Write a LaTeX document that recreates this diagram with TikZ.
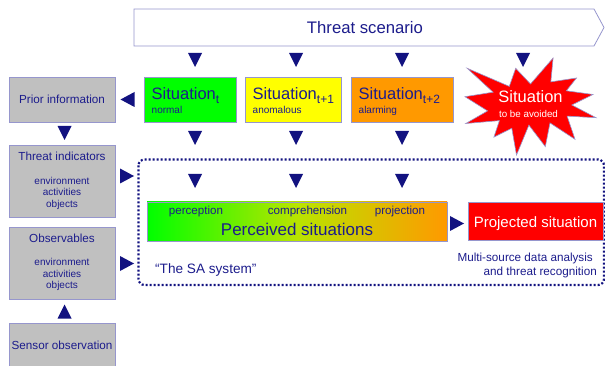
\documentclass[tikz,border=0pt]{standalone}
\usepackage{fontspec}
\setmainfont{Liberation Sans}

\definecolor{ink}{RGB}{28,28,140}
\definecolor{marker}{RGB}{18,18,128}
\definecolor{edge}{RGB}{150,150,205}
\definecolor{boxgray}{RGB}{192,192,192}
\definecolor{sitgreen}{RGB}{0,255,0}
\definecolor{sityellow}{RGB}{255,255,0}
\definecolor{sitorange}{RGB}{255,153,0}
\definecolor{midgreen}{RGB}{185,228,0}
\definecolor{alarmred}{RGB}{255,0,0}

% green -> yellow-green -> orange, left to right (the path spans 25bp..75bp)
\pgfdeclarehorizontalshading{percshade}{100bp}{%
  color(0bp)=(sitgreen); color(25bp)=(sitgreen); color(50bp)=(midgreen);
  color(75bp)=(sitorange); color(100bp)=(sitorange)}

\newcommand\fsz[1]{\fontsize{#1}{#1}\selectfont}
\newcommand\subidx[1]{\raisebox{-4.5pt}{\fsz{12}#1}}

\tikzset{
  frame/.style={draw=edge, line width=0.8pt, inner sep=0pt},
  graybox/.style={frame, fill=boxgray, minimum width=106pt},
  sitbox/.style={frame, minimum height=45pt},
  lbl/.style={text=ink, inner sep=0pt},
  sitlbl/.style={lbl, anchor=base west, font=\fsz{16.5}},
  sitnote/.style={lbl, anchor=base west, font=\fsz{10}},
  title/.style={lbl, anchor=base, font=\fsz{11.7}},
  item/.style={lbl, anchor=base, font=\fsz{10}},
  stage/.style={lbl, anchor=base, font=\fsz{11.6}},
  pics/tdown/.style={code={\fill[marker] (-7,-7) -- (7,-7) -- (0,7) -- cycle;}},
  pics/tup/.style={code={\fill[marker] (-7,7) -- (7,7) -- (0,-7) -- cycle;}},
  pics/tright/.style={code={\fill[marker] (-7,-7.5) -- (-7,7.5) -- (7,0) -- cycle;}},
  pics/tleft/.style={code={\fill[marker] (7,-7.5) -- (7,7.5) -- (-7,0) -- cycle;}},
}

\begin{document}
\begin{tikzpicture}[x=1pt,y=-1pt]
\clip (0,0) rectangle (605,366);

% threat scenario banner
\draw[draw=edge, fill=white, line width=0.8pt]
  (134,9) -- (594,9) -- (604,27.5) -- (594,46) -- (134,46) -- cycle;
\node[lbl, anchor=base, font=\fsz{16.7}] (scen) at (365,33.3) {Threat scenario};

% situations at successive times
\node[sitbox, fill=sitgreen, minimum width=92pt] (sit0) at (190,99.5) {};
\node[sitlbl] (sit0t) at (151.5,99.5) {Situation\subidx{t}};
\node[sitnote] (sit0n) at (151.5,114) {normal};

\node[sitbox, fill=sityellow, minimum width=96pt] (sit1) at (293,99.5) {};
\node[sitlbl] (sit1t) at (252.5,99.5) {Situation\subidx{t+1}};
\node[sitnote] (sit1n) at (252.5,114) {anomalous};

\node[sitbox, fill=sitorange, minimum width=102pt] (sit2) at (402,99.5) {};
\node[sitlbl] (sit2t) at (358.5,99.5) {Situation\subidx{t+2}};
\node[sitnote] (sit2n) at (358.5,114) {alarming};

% situation to be avoided (explosion)
\filldraw[fill=alarmred, draw=edge, line width=0.6pt]
  (530.5,84.0) -- (553.1,58.0) -- (550.8,81.9) -- (576.5,78.0) -- (566.3,90.8)
  -- (593.0,94.5) -- (571.8,105.0) -- (596.0,117.7) -- (567.1,116.1)
  -- (575.0,139.3) -- (550.0,122.9) -- (545.3,146.6) -- (528.9,125.1)
  -- (516.5,155.0) -- (511.8,128.2) -- (493.9,137.1) -- (499.4,120.6)
  -- (465.8,123.5) -- (487.6,110.9) -- (465.0,96.7) -- (493.1,92.2)
  -- (467.2,68.3) -- (509.3,86.4) -- (515.7,68.3) -- cycle;
\node[inner sep=0pt, anchor=base, text=white, font=\fsz{16.5}] (avoid) at (530.5,103) {Situation};
\node[inner sep=0pt, anchor=base, text=white, font=\fsz{9.8}] (avoidn) at (528.5,118) {to be avoided};

% left column
\node[graybox, minimum height=45pt] (prior) at (62,99.5) {};
\node[title] (priort) at (62,103.6) {Prior information};

\node[graybox, minimum height=72pt] (indic) at (62,181) {};
\node[title] (indict) at (62,160.8) {Threat indicators};
\node[item] (indic1) at (62,184.2) {environment};
\node[item] (indic2) at (62,195.9) {activities};
\node[item] (indic3) at (62,207.6) {objects};

\node[graybox, minimum height=72pt] (obs) at (62,263) {};
\node[title] (obst) at (62,242) {Observables};
\node[item] (obs1) at (62,265.4) {environment};
\node[item] (obs2) at (62,277.1) {activities};
\node[item] (obs3) at (62,288.8) {objects};

\node[graybox, minimum height=54pt] (sensor) at (62,350) {};
\node[title] (sensort) at (62,349.5) {Sensor observation};

% the SA system
\draw[marker, line width=2.2pt, dash pattern=on 2pt off 2pt, rounded corners=6pt]
  (138.5,159.5) rectangle (604,285);
\node[frame, shading=percshade, minimum width=300pt, minimum height=39pt] (perc) at (297,221.5) {};
\node[stage] (perc1) at (196,214.2) {perception};
\node[stage] (perc2) at (307.5,214.2) {comprehension};
\node[stage] (perc3) at (400,214.2) {projection};
\node[lbl, anchor=base, font=\fsz{17}] (perct) at (297,235.3) {Perceived situations};

\node[frame, fill=alarmred, minimum width=135pt, minimum height=38pt] (proj) at (535.5,221) {};
\node[inner sep=0pt, anchor=base, text=white, font=\fsz{15}] (projt) at (535.5,227.2) {Projected situation};

\node[lbl, anchor=base east, font=\fsz{11.7}] (ms1) at (593,261.3) {Multi-source data analysis};
\node[lbl, anchor=base east, font=\fsz{11.7}] (ms2) at (597,275) {and threat recognition};
\node[lbl, anchor=base west, font=\fsz{13.6}] (sa) at (155,273.5) {“The SA system”};

% direction markers
\foreach \x in {195,296,402,523} \pic at (\x,60) {tdown};
\foreach \x in {195,296,402} {
  \pic at (\x,138) {tdown};
  \pic at (\x,181) {tdown};
}
\pic at (127.5,99.5) {tleft};
\pic at (64.5,133) {tdown};
\pic at (127,176) {tright};
\pic at (127,263.5) {tright};
\pic at (64.5,311.5) {tup};
\pic at (457,223.5) {tright};
\end{tikzpicture}
\end{document}
